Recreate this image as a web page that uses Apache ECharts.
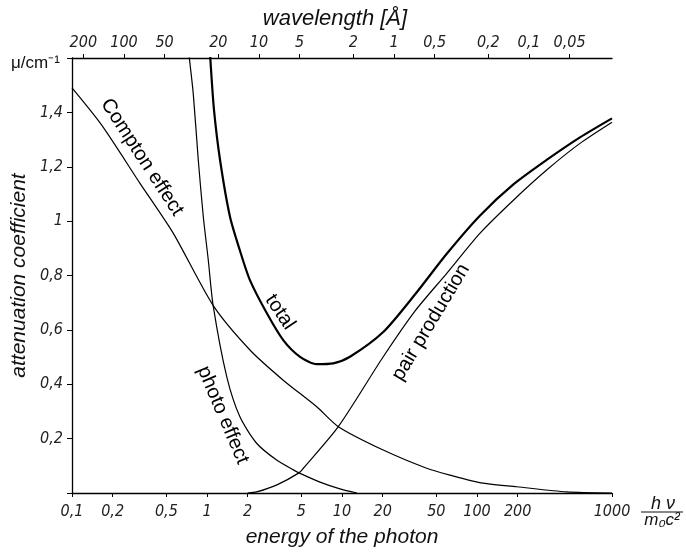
<!DOCTYPE html>
<html>
<head>
<meta charset="utf-8">
<script src="https://cdn.jsdelivr.net/npm/echarts@6/dist/echarts.min.js"></script>
<style>
  html, body { margin: 0; padding: 0; background: #fff; }
  #chart { width: 686px; height: 554px; }
</style>
</head>
<body>
<div id="chart"></div>
<script>
// Photon energy in units of m0c^2, attenuation coefficient in 1/cm
const comptonEnergy = [0.1, 0.166, 0.319, 0.563, 1.11, 2.08, 3.67, 6.5, 9.39, 20.2, 42.4, 63, 111, 197, 460, 1000];
const comptonMu     = [1.49, 1.353, 1.139, 0.955, 0.69, 0.526, 0.415, 0.317, 0.244, 0.158, 0.091, 0.066, 0.036, 0.023, 0.004, 0.0];

const photoEnergy = [0.706, 0.739, 0.791, 0.862, 0.939, 1.022, 1.11, 1.40, 1.75, 2.33, 3.28, 4.36, 4.8, 6.87, 9.66, 12.9];
const photoMu     = [1.7, 1.603, 1.469, 1.224, 1.016, 0.857, 0.69, 0.428, 0.281, 0.183, 0.121, 0.085, 0.074, 0.040, 0.015, 0.0];

const pairEnergy = [2.0, 2.33, 3.3, 4.8, 5.17, 9.39, 20.2, 34.7, 59.7, 105, 186, 328, 579, 1000];
const pairMu     = [0, 0.004, 0.03, 0.074, 0.091, 0.244, 0.501, 0.669, 0.808, 0.955, 1.077, 1.188, 1.286, 1.364];

const totalEnergy = [1.03, 1.06, 1.127, 1.25, 1.48, 1.75, 2.08, 2.77, 3.67, 4.89, 6.5, 8.62, 11.46, 20.2, 34.7, 59.7, 105, 186, 328, 579, 1000];
const totalMu     = [1.7, 1.592, 1.408, 1.224, 1.016, 0.893, 0.783, 0.662, 0.5625, 0.501, 0.474, 0.477, 0.501, 0.592, 0.73, 0.88, 1.02, 1.135, 1.225, 1.308, 1.378];

// Tick values of the two horizontal scales
const energyTicks = [0.1, 0.2, 0.5, 1, 2, 5, 10, 20, 50, 100, 200, 1000];
const wavelengthTicks = [200, 100, 50, 20, 10, 5, 2, 1, 0.5, 0.2, 0.1, 0.05];
// wavelength = comptonWavelength / (h nu / m0 c^2)
const comptonWavelength = 24.26;

// Curve captions: [text, energy, mu, angle in degrees]
const curveLabels = [
  ['Compton effect', 0.33, 1.235, -57],
  ['total', 3.47, 0.665, -56],
  ['photo effect', 1.31, 0.287, -67],
  ['pair production', 45.6, 0.628, 59]
];

const zip = (xs, ys) => xs.map((x, i) => [x, ys[i]]);
const comma = v => String(+v.toFixed(4)).replace('.', ',');

const tickFont = { fontFamily: '"Liberation Sans Narrow", "DejaVu Sans Condensed", "Liberation Sans", sans-serif', fontStyle: 'italic', fontSize: 16, color: '#222' };
const nameFont = { fontFamily: '"Liberation Sans", Arial, sans-serif', fontStyle: 'italic', fontSize: 21, color: '#111' };
const axisLine = { show: true, lineStyle: { color: '#000', width: 1.3 } };

const chart = echarts.init(document.getElementById('chart'), null, { renderer: 'canvas' });

const lineSeries = (name, data, width) => ({
  name, type: 'line', data, xAxisIndex: 0, yAxisIndex: 0,
  showSymbol: false, symbol: 'none', smooth: 0.25,
  clip: true, silent: true,
  lineStyle: { color: '#000', width }
});

chart.setOption({
  animation: false,
  backgroundColor: '#fff',
  grid: { left: 72, right: 74, top: 58, bottom: 61, containLabel: false, outerBoundsMode: 'none' },
  xAxis: [
    {
      type: 'log', logBase: 10, min: 0.1, max: 1000, position: 'bottom',
      name: 'energy of the photon', nameLocation: 'middle', nameGap: 34,
      nameTextStyle: nameFont,
      axisLine,
      axisTick: { show: true, length: 4, customValues: energyTicks, lineStyle: { color: '#000' } },
      axisLabel: { ...tickFont, margin: 11, customValues: energyTicks, formatter: v => comma(v), showMinLabel: true, showMaxLabel: true },
      minorTick: { show: false }, splitLine: { show: false }
    },
    {
      type: 'log', logBase: 10, min: comptonWavelength / 1000, max: comptonWavelength / 0.1,
      inverse: true, position: 'top',
      name: 'wavelength [Å]', nameLocation: 'middle', nameGap: 26,
      nameTextStyle: { ...nameFont, fontSize: 22, padding: [0, 14, 0, 0] },
      axisLine,
      axisTick: { show: true, length: 4, customValues: wavelengthTicks, lineStyle: { color: '#000' } },
      axisLabel: { ...tickFont, margin: 7, customValues: wavelengthTicks, formatter: v => comma(v) },
      splitLine: { show: false }
    }
  ],
  yAxis: {
    type: 'value', min: 0, max: 1.6, interval: 0.2,
    name: 'attenuation coefficient', nameLocation: 'middle', nameGap: 40,
    nameTextStyle: { ...nameFont, fontSize: 21 },
    axisLine,
    axisTick: { show: true, length: 5, lineStyle: { color: '#000' } },
    axisLabel: { ...tickFont, margin: 9, formatter: v => (v <= 0 || v >= 1.59) ? '' : comma(v) },
    splitLine: { show: false }
  },
  series: [
    lineSeries('Compton effect', zip(comptonEnergy, comptonMu), 1.2),
    lineSeries('photo effect', zip(photoEnergy, photoMu), 1.2),
    lineSeries('pair production', zip(pairEnergy, pairMu), 1.2),
    lineSeries('total', zip(totalEnergy, totalMu), 2.2)
  ]
});

// Captions along the curves, the unit of the y scale and the unit of the energy scale
const captionGraphics = curveLabels.map(([text, e, mu, deg]) => {
  const [px, py] = chart.convertToPixel({ gridIndex: 0 }, [e, mu]);
  return {
    type: 'text', x: px, y: py, rotation: deg * Math.PI / 180,
    style: { text, fill: '#000', font: '20px "Liberation Sans", Arial, sans-serif', align: 'center', verticalAlign: 'middle' },
    silent: true
  };
});

const [endX, axisY] = chart.convertToPixel({ gridIndex: 0 }, [1000, 0]);
const [leftX, topY] = chart.convertToPixel({ gridIndex: 0 }, [0.1, 1.6]);
const unitX = endX + 50;

chart.setOption({
  graphic: [
    ...captionGraphics,
    {
      type: 'text', x: leftX - 61, y: topY + 5,
      style: { text: 'μ/cm⁻¹', fill: '#111', font: '17px "Liberation Sans", Arial, sans-serif', verticalAlign: 'middle' },
      silent: true
    },
    {
      type: 'text', x: unitX + 1, y: axisY + 11,
      style: { text: 'h ν', fill: '#111', font: 'italic 18px "Liberation Sans", Arial, sans-serif', align: 'center', verticalAlign: 'middle' },
      silent: true
    },
    {
      type: 'line', shape: { x1: unitX - 21, y1: axisY + 19, x2: unitX + 21, y2: axisY + 19 },
      style: { stroke: '#111', lineWidth: 1.2 }, silent: true
    },
    {
      type: 'text', x: unitX, y: axisY + 27,
      style: { text: 'm₀c²', fill: '#111', font: 'italic 17px "Liberation Sans", Arial, sans-serif', align: 'center', verticalAlign: 'middle' },
      silent: true
    }
  ]
});
</script>
</body>
</html>
